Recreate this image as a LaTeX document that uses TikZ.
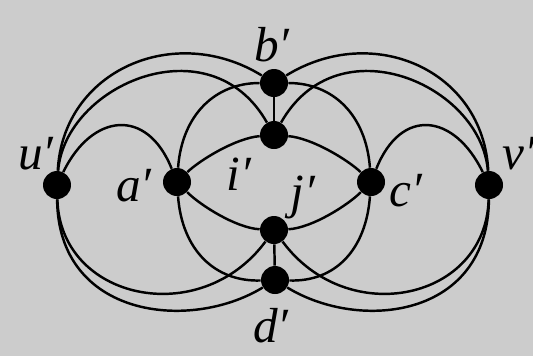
\documentclass[tikz,border=0pt]{standalone}
\usepackage{fontspec}
\setmainfont{Liberation Serif}
\usetikzlibrary{positioning}
\definecolor{paper}{RGB}{204,204,204}

\begin{document}
\begin{tikzpicture}[
  x=0.02cm, y=-0.02cm,
  font=\fontsize{28}{32}\selectfont\itshape,
  vertex/.style={circle, fill=black, inner sep=0pt, minimum size=0.56cm},
  lbl/.style={inner sep=0pt},
  edge/.style={line width=1.4pt}
]
\fill[paper] (0,0) rectangle (533,356);
\useasboundingbox (0,0) rectangle (533,356);

\node[vertex] (u) at (57,185) {};
\node[vertex] (a) at (177,182) {};
\node[vertex] (b) at (274,83) {};
\node[vertex] (i) at (274,135) {};
\node[vertex] (j) at (274,230) {};
\node[vertex] (d) at (275,280) {};
\node[vertex] (c) at (371,182) {};
\node[vertex] (v) at (489,185) {};

\node[lbl] (lu) at (36,154) {u′};
\node[lbl] (la) at (134,186) {a′};
\node[lbl] (lb) at (272,45) {b′};
\node[lbl] (li) at (239,174) {i′};
\node[lbl] (lj) at (303,197) {j′};
\node[lbl] (lc) at (406,191) {c′};
\node[lbl] (ld) at (271,326) {d′};
\node[lbl] (lv) at (519,154) {v′};

% outer arcs
\draw[edge] (u) .. controls +(6,-115) and +(-99,-61) .. (b);
\draw[edge] (u) .. controls +(8,-100) and +(-64,-113) .. (i);
\draw[edge] (u) .. controls +(3,115) and +(-74,100) .. (j);
\draw[edge] (u) .. controls +(1,133) and +(-85,52) .. (d);
\draw[edge] (v) .. controls +(-6,-115) and +(99,-61) .. (b);
\draw[edge] (v) .. controls +(-8,-100) and +(64,-113) .. (i);
\draw[edge] (v) .. controls +(-3,115) and +(74,100) .. (j);
\draw[edge] (v) .. controls +(-1,133) and +(85,52) .. (d);

% side loops
\draw[edge] (u) .. controls +(35,-72) and +(-30,-75) .. (a);
\draw[edge] (c) .. controls +(30,-75) and +(-35,-72) .. (v);

% inner arcs
\draw[edge] (a) .. controls +(5,-67) and +(-59,0) .. (b);
\draw[edge] (a) .. controls +(23,-22) and +(-38,3) .. (i);
\draw[edge] (a) .. controls +(23,23) and +(-38,-2) .. (j);
\draw[edge] (a) .. controls +(5,68) and +(-60,2) .. (d);
\draw[edge] (c) .. controls +(-5,-67) and +(59,0) .. (b);
\draw[edge] (c) .. controls +(-23,-22) and +(38,3) .. (i);
\draw[edge] (c) .. controls +(-23,23) and +(38,-2) .. (j);
\draw[edge] (c) .. controls +(-5,68) and +(60,2) .. (d);

\draw[edge] (b) -- (i);
\draw[edge] (j) -- (d);
\end{tikzpicture}
\end{document}
